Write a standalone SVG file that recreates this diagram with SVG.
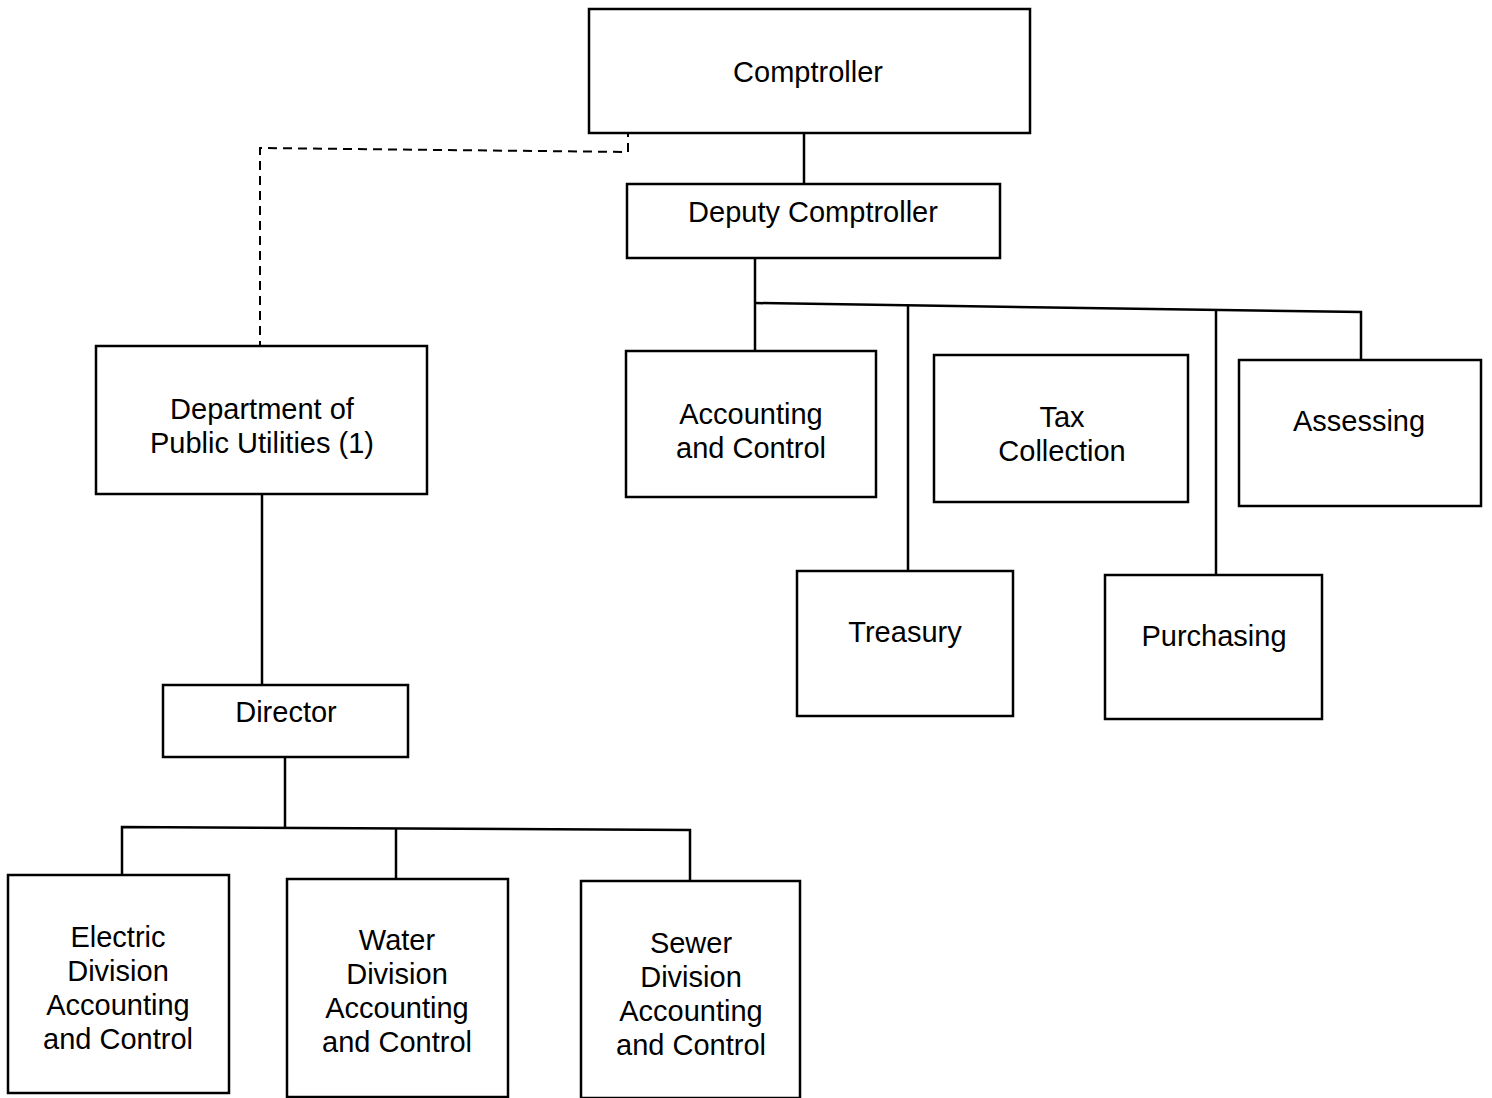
<svg xmlns="http://www.w3.org/2000/svg" width="1492" height="1098" viewBox="0 0 1492 1098">
<style>
.box{fill:#fff;stroke:#000;stroke-width:2.5}
.t{font-family:"Liberation Sans",Arial,sans-serif;font-size:29px;fill:#000;text-anchor:middle}
.c{fill:none;stroke:#000;stroke-width:2.5}
.d{fill:none;stroke:#000;stroke-width:2;stroke-dasharray:9,6}
</style>
<rect width="1492" height="1098" fill="#fff"/>
<g id="connectors">
<path class="c" d="M804,133V183"/>
<path class="c" d="M755,258V350"/>
<path class="c" d="M755,303L1361,312V359"/>
<path class="c" d="M908,306V570"/>
<path class="c" d="M1216,310V574"/>
<path class="d" d="M628,128V152L260,148V345"/>
<path class="c" d="M262,494V684"/>
<path class="c" d="M285,757V828"/>
<path class="c" d="M122,874V827L690,830V880"/>
<path class="c" d="M396,828V878"/>
</g>
<g id="comptroller"><rect class="box" x="589" y="9" width="441" height="124"/><text class="t" x="808" y="82">Comptroller</text></g>
<g id="deputy"><rect class="box" x="627" y="184" width="373" height="74"/><text class="t" x="813" y="222">Deputy Comptroller</text></g>
<g id="dpu"><rect class="box" x="96" y="346" width="331" height="148"/><text class="t" x="262" y="419">Department of</text><text class="t" x="262" y="453">Public Utilities (1)</text></g>
<g id="director"><rect class="box" x="163" y="685" width="245" height="72"/><text class="t" x="286" y="722">Director</text></g>
<g id="accounting"><rect class="box" x="626" y="351" width="250" height="146"/><text class="t" x="751" y="424">Accounting</text><text class="t" x="751" y="458">and Control</text></g>
<g id="tax"><rect class="box" x="934" y="355" width="254" height="147"/><text class="t" x="1062" y="427">Tax</text><text class="t" x="1062" y="461">Collection</text></g>
<g id="assessing"><rect class="box" x="1239" y="360" width="242" height="146"/><text class="t" x="1359" y="431">Assessing</text></g>
<g id="treasury"><rect class="box" x="797" y="571" width="216" height="145"/><text class="t" x="905" y="642">Treasury</text></g>
<g id="purchasing"><rect class="box" x="1105" y="575" width="217" height="144"/><text class="t" x="1214" y="646">Purchasing</text></g>
<g id="electric"><rect class="box" x="8" y="875" width="221" height="218"/><text class="t" x="118" y="947">Electric</text><text class="t" x="118" y="981">Division</text><text class="t" x="118" y="1015">Accounting</text><text class="t" x="118" y="1049">and Control</text></g>
<g id="water"><rect class="box" x="287" y="879" width="221" height="218"/><text class="t" x="397" y="950">Water</text><text class="t" x="397" y="984">Division</text><text class="t" x="397" y="1018">Accounting</text><text class="t" x="397" y="1052">and Control</text></g>
<g id="sewer"><rect class="box" x="581" y="881" width="219" height="217"/><text class="t" x="691" y="953">Sewer</text><text class="t" x="691" y="987">Division</text><text class="t" x="691" y="1021">Accounting</text><text class="t" x="691" y="1055">and Control</text></g>
</svg>
